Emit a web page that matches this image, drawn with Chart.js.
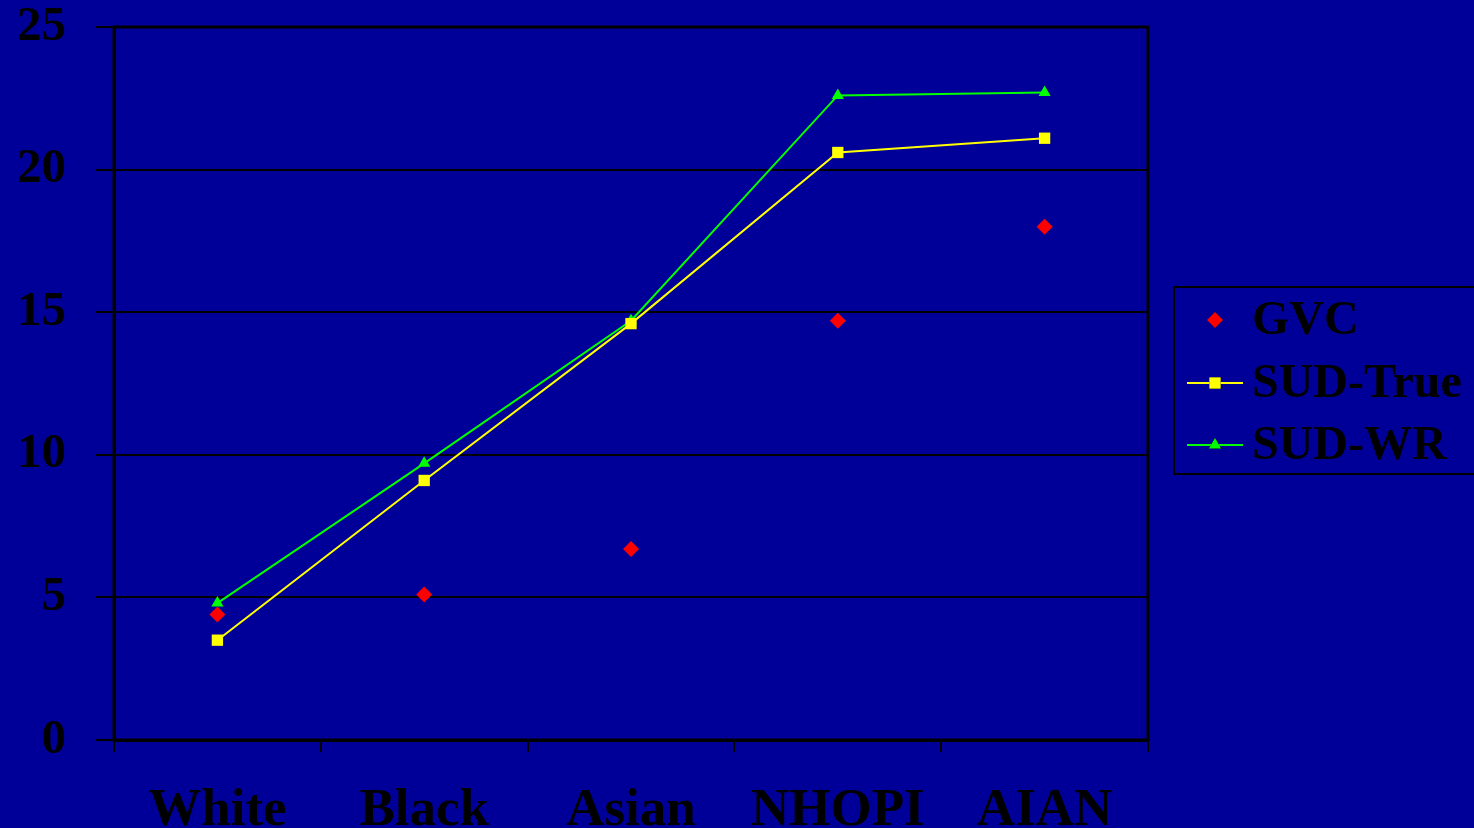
<!DOCTYPE html>
<html>
<head>
<meta charset="utf-8">
<script src="https://cdn.jsdelivr.net/npm/chart.js@4"></script>
<style>
  html, body { margin: 0; padding: 0; background: #000099; }
  #wrap { width: 1474px; height: 828px; }
</style>
</head>
<body>
<div id="wrap"><canvas id="chart" width="1474" height="828"></canvas></div>
<script>
const categories = ["White", "Black", "Asian", "NHOPI", "AIAN"];
const gvc = [4.4, 5.1, 6.7, 14.7, 18.0];
const sudTrue = [3.5, 9.1, 14.6, 20.6, 21.1];
const sudWR = [4.8, 9.7, 14.7, 22.6, 22.7];
const yTicks = [0, 5, 10, 15, 20, 25];

const serif = "'Liberation Serif', 'Times New Roman', serif";

const bgPlugin = {
  id: "bg",
  beforeDraw(chart) {
    const ctx = chart.ctx;
    ctx.save();
    ctx.fillStyle = "#000099";
    ctx.fillRect(0, 0, chart.width, chart.height);
    ctx.restore();
  }
};

// plot border + legend box with line samples
const framePlugin = {
  id: "frame",
  afterDraw(chart) {
    const ctx = chart.ctx;
    const a = chart.chartArea;
    ctx.save();
    ctx.strokeStyle = "#000";
    ctx.lineWidth = 3;
    ctx.strokeRect(a.left, a.top, a.right - a.left, a.bottom - a.top);

    ctx.lineWidth = 2;
    ctx.strokeRect(1174, 287, 320, 187);
    const rows = [320, 383, 445];
    chart.data.datasets.forEach((ds, i) => {
      const y = rows[i];
      if (ds.showLine !== false) {
        ctx.strokeStyle = ds.borderColor;
        ctx.lineWidth = ds.borderWidth;
        ctx.beginPath();
        ctx.moveTo(1187, y);
        ctx.lineTo(1243, y);
        ctx.stroke();
      }
      Chart.helpers.drawPoint(ctx, {
        pointStyle: ds.pointStyle,
        radius: ds.pointRadius,
        rotation: 0,
        borderWidth: 0
      }, 1215, y);
      ctx.fillStyle = ds.pointBackgroundColor;
      ctx.fill();
      ctx.fillStyle = "#000";
      ctx.font = "bold 48px " + serif;
      ctx.textBaseline = "middle";
      ctx.textAlign = "left";
      ctx.fillText(ds.label, 1252, y + 2);
    });
    ctx.restore();
  }
};

new Chart(document.getElementById("chart"), {
  type: "line",
  data: {
    labels: categories,
    datasets: [
      {
        label: "GVC",
        data: gvc,
        showLine: false,
        borderColor: "#FF0000",
        borderWidth: 0,
        pointStyle: "rectRot",
        pointRadius: 8,
        pointBackgroundColor: "#FF0000",
        pointBorderColor: "#FF0000",
        pointBorderWidth: 0
      },
      {
        label: "SUD-True",
        data: sudTrue,
        borderColor: "#FFFF00",
        borderWidth: 2,
        pointStyle: "rect",
        pointRadius: 8,
        pointBackgroundColor: "#FFFF00",
        pointBorderColor: "#FFFF00",
        pointBorderWidth: 0
      },
      {
        label: "SUD-WR",
        data: sudWR,
        borderColor: "#00FF00",
        borderWidth: 2,
        pointStyle: "triangle",
        pointRadius: 7,
        pointBackgroundColor: "#00FF00",
        pointBorderColor: "#00FF00",
        pointBorderWidth: 0
      }
    ]
  },
  options: {
    responsive: false,
    animation: false,
    layout: { padding: { top: 27, right: 326, left: 0, bottom: 0 } },
    plugins: {
      legend: { display: false },
      tooltip: { enabled: false }
    },
    scales: {
      x: {
        offset: true,
        afterFit(scale) { scale.height = 88; scale.paddingLeft = 0; scale.paddingRight = 0; },
        grid: {
          offset: true,
          drawOnChartArea: false,
          drawTicks: true,
          tickLength: 12,
          color: "#000",
          lineWidth: 2
        },
        border: { color: "#000", width: 3 },
        ticks: {
          color: "#000",
          padding: 28,
          font: { family: serif, size: 53, weight: "bold" }
        }
      },
      y: {
        min: 0,
        max: 25,
        afterFit(scale) { scale.width = 114; scale.paddingTop = 0; scale.paddingBottom = 0; },
        afterBuildTicks(scale) { scale.ticks = yTicks.map(v => ({ value: v })); },
        grid: {
          color: "#000",
          lineWidth: 2,
          tickLength: 18
        },
        border: { color: "#000", width: 3 },
        ticks: {
          color: "#000",
          padding: 30,
          font: { family: serif, size: 49, weight: "bold" }
        }
      }
    }
  },
  plugins: [bgPlugin, framePlugin]
});
</script>
</body>
</html>
